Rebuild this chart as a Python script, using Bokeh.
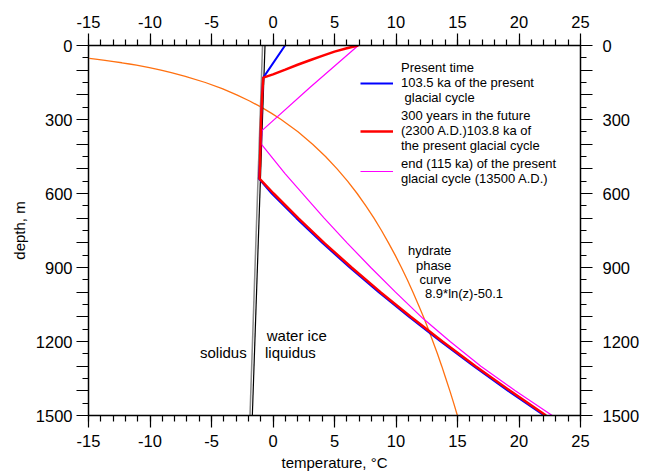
from bokeh.plotting import figure
from bokeh.models import LinearAxis, FixedTicker, Legend, LegendItem, Label, Range1d
from bokeh.embed import file_html
from bokeh.resources import INLINE

# ---- data (temperature in °C, depth in m) ----
present_depth = [0, 130, 200, 300, 400, 480, 540, 600, 700, 800, 900, 1000, 1100, 1200, 1300, 1400, 1500]
present_temp = [0.98, -0.79, -0.88, -0.96, -1.02, -1.07, -1.15, -0.1, 1.9, 4.0, 6.24, 8.6, 11.05, 13.63, 16.32, 19.12, 22.05]

future_depth = [0, 5, 11, 25, 42, 60, 78, 98, 117, 130, 200, 300, 400, 480, 540, 600, 700, 800, 900, 1000, 1100, 1200, 1300, 1400, 1500]
future_temp = [6.93, 6.5, 6.0, 5.0, 4.0, 3.0, 2.0, 1.0, 0.0, -0.79, -0.88, -0.97, -1.02, -1.06, -1.1, 0.05, 2.05, 4.16, 6.39, 8.74, 11.2, 13.78, 16.47, 19.28, 22.2]

end_depth = [0, 170, 345, 400, 519, 627, 700, 800, 900, 1000, 1107, 1200, 1300, 1400, 1500]
end_temp = [6.93, 3.0, -0.9, -0.95, 0.98, 2.87, 4.16, 6.02, 7.95, 9.96, 12.2, 14.4, 16.9, 19.7, 22.7]

hydrate_depth = [52, 55, 60, 65, 70, 75, 80, 90, 100, 110, 125, 150, 175, 200, 225, 250, 275, 300, 350,
                 400, 450, 500, 550, 600, 650, 700, 750, 800, 850, 900, 950, 1000, 1050, 1100, 1150,
                 1200, 1250, 1300, 1350, 1400, 1450, 1500]
hydrate_temp = [-14.93, -14.43, -13.66, -12.95, -12.29, -11.67, -11.1, -10.05, -9.11, -8.27, -7.13, -5.5,
                -4.13, -2.95, -1.9, -0.96, -0.11, 0.66, 2.03, 3.22, 4.27, 5.21, 6.06, 6.84, 7.55, 8.21,
                8.82, 9.39, 9.93, 10.44, 10.92, 11.38, 11.81, 12.23, 12.63, 13.0, 13.37, 13.72, 14.05,
                14.38, 14.69, 14.99]

solidus_depth = [0, 1500]
solidus_temp = [-0.85, -1.87]
liquidus_depth = [0, 1500]
liquidus_temp = [-0.65, -1.68]

x_ticks = [-15, -10, -5, 0, 5, 10, 15, 20, 25]
x_tick_labels = ["-15", "-10", "-5", "0", "5", "10", "15", "20", "25"]
y_ticks = [0, 100, 200, 300, 400, 500, 600, 700, 800, 900, 1000, 1100, 1200, 1300, 1400, 1500]
y_tick_labels = ["0", "", "", "300", "", "", "600", "", "", "900", "", "", "1200", "", "", "1500"]

legend_labels = [
    "Present time\n103.5 ka of the present\n glacial cycle",
    "300 years in the future\n(2300 A.D.)103.8 ka of\nthe present glacial cycle",
    "end (115 ka) of the present\nglacial cycle (13500 A.D.)",
]

FONT = "Liberation Sans"

p = figure(width=649, height=475, x_range=Range1d(-15, 25), y_range=Range1d(1500, 0),
           output_backend="svg", toolbar_location=None,
           x_axis_location=None, y_axis_location=None,
           min_border_left=88, min_border_right=69, min_border_top=45, min_border_bottom=60)
p.grid.visible = False
p.outline_line_color = None
p.background_fill_color = "white"
p.border_fill_color = "white"

x_ticker = FixedTicker(ticks=x_ticks, minor_ticks=list(range(-15, 26)))
y_ticker = FixedTicker(ticks=y_ticks, minor_ticks=list(range(0, 1501, 50)))
x_over = {t: l for t, l in zip(x_ticks, x_tick_labels)}
y_over = {t: l for t, l in zip(y_ticks, y_tick_labels)}


def make_axis(ticker, overrides, standoff):
    return LinearAxis(ticker=ticker, major_label_overrides=overrides,
                      axis_line_color="black", axis_line_width=1.5,
                      major_tick_line_color="black", major_tick_line_width=1.2,
                      minor_tick_line_color="black", minor_tick_line_width=1.2,
                      major_tick_out=12, major_tick_in=0, minor_tick_out=6, minor_tick_in=0,
                      major_label_text_font=FONT, major_label_text_font_size="16.5px",
                      major_label_text_color="black", major_label_standoff=standoff,
                      axis_label_text_font=FONT, axis_label_text_font_size="15px",
                      axis_label_text_font_style="normal", axis_label_text_color="black")


bottom = make_axis(x_ticker, x_over, 7)
bottom.axis_label = "temperature, °C"
bottom.axis_label_standoff = 4
top = make_axis(x_ticker, x_over, 6)
left = make_axis(y_ticker, y_over, 4)
left.axis_label = "depth, m"
left.axis_label_standoff = 5
right = make_axis(y_ticker, y_over, 10)
p.add_layout(bottom, "below")
p.add_layout(top, "above")
p.add_layout(left, "left")
p.add_layout(right, "right")

p.line(hydrate_temp, hydrate_depth, line_color="#ff7010", line_width=1.3)
p.line(solidus_temp, solidus_depth, line_color="#8a8a8a", line_width=1.5)
p.line(liquidus_temp, liquidus_depth, line_color="black", line_width=1.2)
r_end = p.line(end_temp, end_depth, line_color="#ff00ff", line_width=1.2)
r_present = p.line(present_temp, present_depth, line_color="#0000ff", line_width=2)
r_future = p.line(future_temp, future_depth, line_color="#ff0000", line_width=2.5)

legend = Legend(items=[LegendItem(label=legend_labels[0], renderers=[r_present]),
                       LegendItem(label=legend_labels[1], renderers=[r_future]),
                       LegendItem(label=legend_labels[2], renderers=[r_end])],
                location=(272, 229), glyph_width=33, label_standoff=8, padding=0, margin=0,
                spacing=3, border_line_color=None, background_fill_alpha=0,
                label_text_font=FONT, label_text_font_size="13px", label_text_line_height=1.18,
                label_text_color="black")
p.add_layout(legend)

ann = dict(text_font=FONT, text_color="black", text_baseline="middle")
p.add_layout(Label(x=-2.14, y=1246, text="solidus", text_align="right", text_font_size="15px", **ann))
p.add_layout(Label(x=-0.51, y=1177, text="water ice", text_align="left", text_font_size="15px", **ann))
p.add_layout(Label(x=-0.65, y=1246, text="liquidus", text_align="left", text_font_size="15px", **ann))
p.add_layout(Label(x=14.5, y=830, text="hydrate", text_align="right", text_font_size="13px", **ann))
p.add_layout(Label(x=14.5, y=891, text="phase", text_align="right", text_font_size="13px", **ann))
p.add_layout(Label(x=14.5, y=947, text="curve", text_align="right", text_font_size="13px", **ann))
p.add_layout(Label(x=12.36, y=1005, text="8.9*ln(z)-50.1", text_align="left", text_font_size="13px", **ann))

open("out.html", "w").write(file_html(p, INLINE))
